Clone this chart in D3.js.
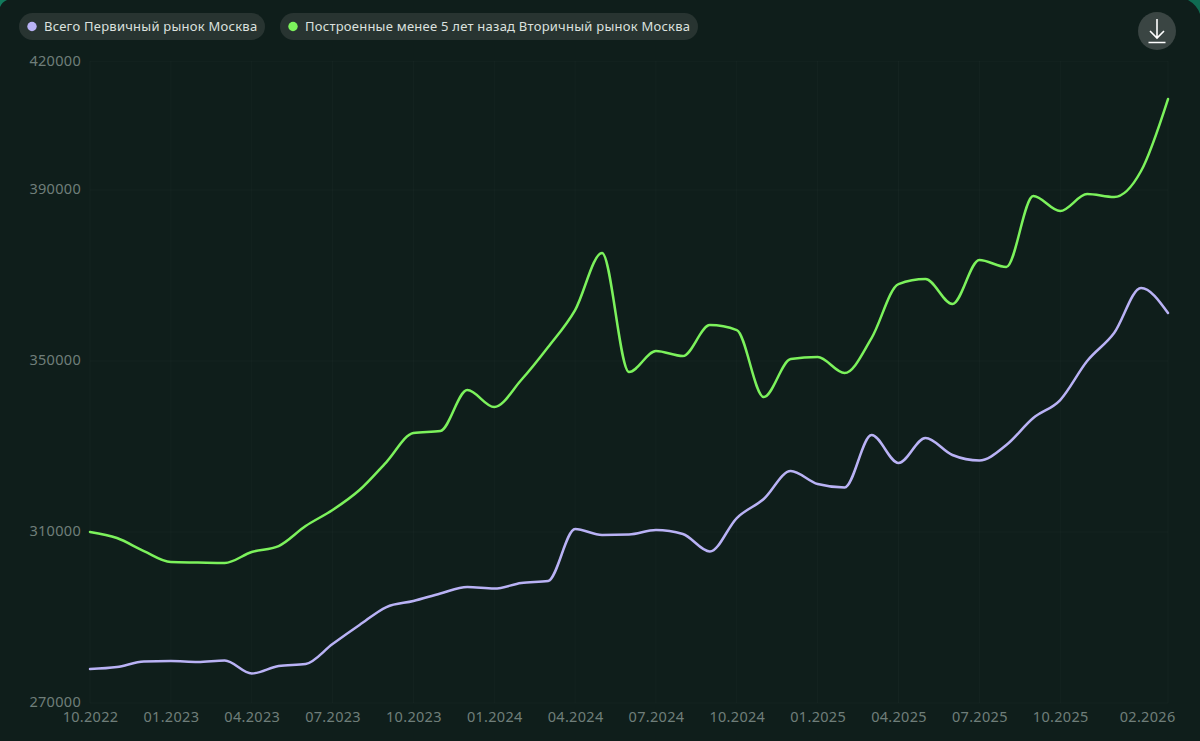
<!DOCTYPE html>
<html><head><meta charset="utf-8">
<script src="https://cdn.jsdelivr.net/npm/d3@7/dist/d3.min.js"></script>
<style>html,body{margin:0;padding:0;background:#0f1e1b;overflow:hidden}svg{display:block}text{font-family:"Noto Sans","Open Sans",sans-serif}</style>
</head><body><svg id="c" width="1200" height="741"></svg>
<script>
const months = ["10.2022","11.2022","12.2022","01.2023","02.2023","03.2023","04.2023","05.2023","06.2023","07.2023","08.2023","09.2023","10.2023","11.2023","12.2023","01.2024","02.2024","03.2024","04.2024","05.2024","06.2024","07.2024","08.2024","09.2024","10.2024","11.2024","12.2024","01.2025","02.2025","03.2025","04.2025","05.2025","06.2025","07.2025","08.2025","09.2025","10.2025","11.2025","12.2025","01.2026","02.2026"];
const primary = [277950,278420,279710,279820,279590,279940,276900,278650,279120,283800,288240,292450,293860,295610,297130,296780,298070,298540,310700,309300,309410,310470,309530,305440,313270,317720,324270,321220,320400,332690,326140,331980,328010,326720,330350,336660,340870,349990,356540,367070,361220];
const secondary = [310000,308590,305550,302980,302860,302750,305320,306720,311400,315140,319820,326370,333150,333620,343210,339230,345550,353270,361920,375260,347420,352330,351160,358410,357240,341570,350460,350930,347190,355370,368000,369170,363330,373620,371980,388590,385080,389050,388350,394440,411280];
const yTicks = [270000,310000,350000,390000,420000];
const xTickLabels = ["10.2022","01.2023","04.2023","07.2023","10.2023","01.2024","04.2024","07.2024","10.2024","01.2025","04.2025","07.2025","10.2025","02.2026"];
const legendNames = ["Всего Первичный рынок Москва","Построенные менее 5 лет назад Вторичный рынок Москва"];
const colors = ["#b9b2f5","#7cf25c"];

const svg = d3.select("#c");
svg.append("path").attr("d","M0,0H7Q2,2 0,7Z").attr("fill","#127a5c");
svg.append("path").attr("d","M1188,0H1200V14Q1197,5 1188,0Z").attr("fill","#0f6b52");
const x = d3.scalePoint().domain(months).range([90,1168]);
const y = d3.scaleLinear().domain([270000,420000]).range([703,61.75]);
const grid = svg.append("g").attr("stroke","#ffffff").attr("stroke-opacity",0.025);
grid.selectAll("line.h").data(yTicks).join("line").attr("x1",90).attr("x2",1168).attr("y1",d=>y(d)).attr("y2",d=>y(d));
grid.selectAll("line.v").data(xTickLabels).join("line").attr("y1",61).attr("y2",703).attr("x1",d=>x(d)).attr("x2",d=>x(d));

const yAxis = d3.axisLeft(y).tickValues(yTicks).tickFormat(d3.format("d")).tickSize(0).tickPadding(0);
const yg = svg.append("g").attr("transform","translate(81,2)").call(yAxis);
yg.select(".domain").remove();
yg.selectAll("text").attr("fill","#6f7e7a").attr("font-size",14.5).attr("dy","0.1em").attr("letter-spacing",0.3);
const xAxis = d3.axisBottom(x).tickValues(xTickLabels).tickSize(0).tickPadding(0);
const xg = svg.append("g").attr("transform","translate(0,711)").call(xAxis);
xg.select(".domain").remove();
xg.selectAll("text").attr("fill","#6f7e7a").attr("font-size",14.5).attr("dy","0.75em").attr("letter-spacing",0.3);
xg.selectAll("text").filter(d=>d==="02.2026").attr("text-anchor","end").attr("dx",7);

const line = d3.line().x((d,i)=>x(months[i])).y(d=>y(d)).curve(d3.curveMonotoneX);
[primary,secondary].forEach((s,k)=>{
  svg.append("path").attr("d",line(s)).attr("fill","none").attr("stroke",colors[k]).attr("stroke-width",2.5).attr("stroke-linejoin","round").attr("stroke-linecap","round");
});

const pills=[{x:19,w:246},{x:280,w:418}];
pills.forEach((p,k)=>{
  const g=svg.append("g");
  g.append("rect").attr("x",p.x).attr("y",13).attr("width",p.w).attr("height",27).attr("rx",13.5).attr("fill","#283431");
  g.append("circle").attr("cx",p.x+13).attr("cy",26.5).attr("r",4.7).attr("fill",colors[k]);
  g.append("text").attr("x",p.x+25).attr("y",31).attr("fill","#dce1df").attr("font-size",13).attr("letter-spacing",0.24).text(legendNames[k]);
});
const b=svg.append("g").attr("transform","translate(1157,31)");
b.append("circle").attr("r",19).attr("fill","#3a4543");
b.append("path").attr("d","M0,-12V7M-7,0L0,7L7,0M-8.5,11.5H8.5").attr("fill","none").attr("stroke","#fff").attr("stroke-width",1.6);
</script></body></html>
